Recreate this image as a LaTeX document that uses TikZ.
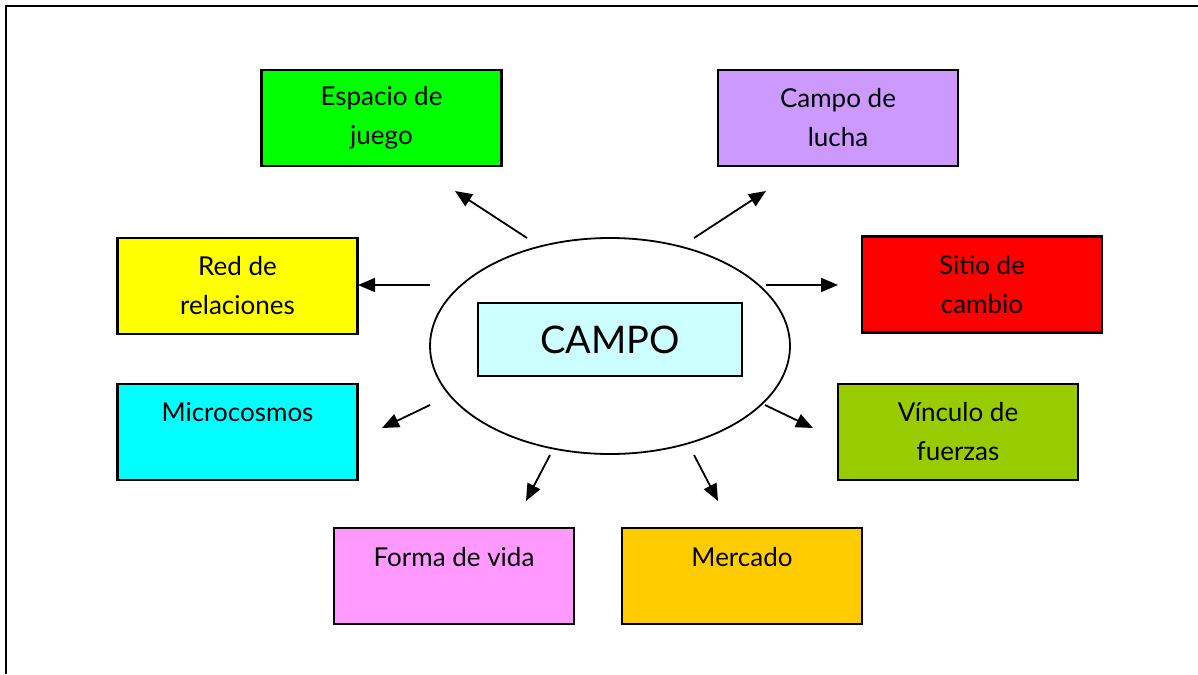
\documentclass[tikz,border=0pt]{standalone}
\usepackage{fontspec}
\setmainfont{Lato}
\usetikzlibrary{shapes.geometric,arrows.meta}
\definecolor{juegogreen}{HTML}{00FF00}
\definecolor{luchaviolet}{HTML}{CC99FF}
\definecolor{redyellow}{HTML}{FFFF00}
\definecolor{sitiored}{HTML}{FF0000}
\definecolor{microcyan}{HTML}{00FFFF}
\definecolor{vinculogreen}{HTML}{99CC00}
\definecolor{formapink}{HTML}{FF99FF}
\definecolor{mercadogold}{HTML}{FFCC00}
\definecolor{campoblue}{HTML}{CCFFFF}
\tikzset{
  concept box/.style={
    rectangle,
    draw=black,
    line width=2.4pt,
    fill=#1,
    minimum width=240pt,
    minimum height=96pt,
    align=center,
    inner sep=0pt,
    font=\fontsize{26}{39}\selectfont,
  },
  concept box/.default=white,
  spoke/.style={
    line width=1.8pt,
    -{Triangle[length=17pt,width=14pt]},
  }
}

\begin{document}
\begin{tikzpicture}[x=1pt,y=-1pt]
\useasboundingbox (0,0) rectangle (1198,674);
\draw[line width=2.4pt] (6,674) -- (6,6) -- (1198,6);

% centre
\node[ellipse, draw, line width=1.8pt, minimum width=360pt, minimum height=216pt]
  (ring) at (610,346) {};
\node[concept box=campoblue, minimum width=264pt, minimum height=73pt,
  font=\fontsize{38}{44}\selectfont] (campo) at (610,339.5) {CAMPO};

% the eight concepts
\node[concept box=juegogreen]   (espacio) at (381.5,118) {Espacio de\\juego};
\node[concept box=luchaviolet]  (lucha)   at (838,118)   {Campo de\\lucha};
\node[concept box=redyellow]    (red)     at (237.5,286) {Red de\\relaciones};
\node[concept box=sitiored]     (sitio)   at (982,284.5) {Sitio de\\cambio};
\node[concept box=microcyan]    (micro)   at (237.5,432) {Microcosmos\\~};
\node[concept box=vinculogreen] (vinculo) at (958,432)   {Vínculo de\\fuerzas};
\node[concept box=formapink]    (forma)   at (454,576)   {Forma de vida\\~};
\node[concept box=mercadogold]  (mercado) at (742,576)   {Mercado\\~};

% arrows out of the ring
\foreach \nm/\tx/\ty/\hx/\hy in {espacio/527/238/455/191, lucha/694/238/766/191,
    red/430/285/358/285, sitio/766/285/838/285,
    micro/430/405/382/428, vinculo/765/405/813/428,
    forma/550/455/526/501, mercado/694/455/718/501}{
  \coordinate (\nm tail) at (\tx,\ty);
  \coordinate (\nm head) at (\hx,\hy);
  \draw[spoke] (\nm tail) -- (\nm head);
}
\end{tikzpicture}
\end{document}
